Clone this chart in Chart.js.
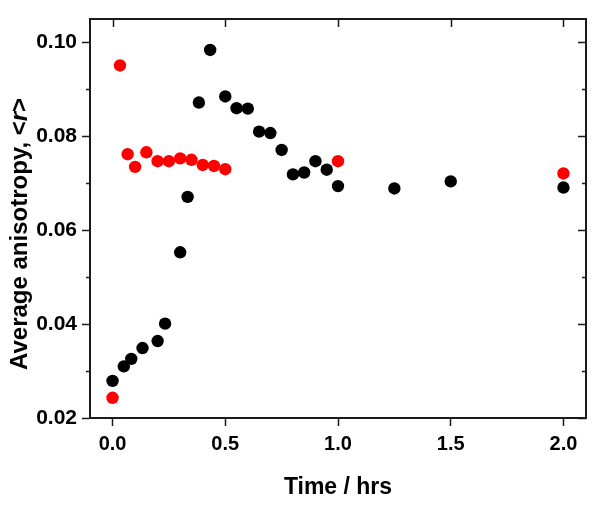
<!DOCTYPE html>
<html lang="en">
<head>
  <meta charset="UTF-8">
  <title>Average anisotropy vs time</title>
  <script src="https://cdn.jsdelivr.net/npm/chart.js@4.4.1/dist/chart.umd.min.js"></script>
  <style>
    body {
      margin: 0;
      background: #ffffff;
    }
    #wrap {
      width: 601px;
      height: 512px;
    }
  </style>
</head>
<body>
  <div id="wrap">
    <canvas id="anisoChart" width="601" height="512"></canvas>
  </div>

  <script>
    // Data
    const blackTime = [0, 0.05, 0.083, 0.133, 0.2, 0.233, 0.3, 0.333, 0.383, 0.433, 0.5, 0.55, 0.6, 0.65, 0.7, 0.75, 0.8, 0.85, 0.9, 0.95, 1.0, 1.25, 1.5, 2.0];
    const blackR = [0.0279, 0.0310, 0.0326, 0.0349, 0.0364, 0.0401, 0.0553, 0.0671, 0.0872, 0.0984, 0.0885, 0.0860, 0.0859, 0.0810, 0.0807, 0.0771, 0.0719, 0.0723, 0.0747, 0.0729, 0.0694, 0.0689, 0.0704, 0.0691];

    const redTime = [0, 0.033, 0.067, 0.1, 0.15, 0.2, 0.25, 0.3, 0.35, 0.4, 0.45, 0.5, 1.0, 2.0];
    const redR = [0.0243, 0.0951, 0.0762, 0.0735, 0.0766, 0.0747, 0.0747, 0.0753, 0.0750, 0.0739, 0.0737, 0.0730, 0.0747, 0.0721];

    const xTicks = [0, 0.5, 1.0, 1.5, 2.0];
    const yTicks = [0.02, 0.04, 0.06, 0.08, 0.10];
    const yMinorTicks = [0.03, 0.05, 0.07, 0.09];

    // y title pieces: "Average anisotropy, <r>" with the r in italics
    const yTitleParts = [
      { text: 'Average anisotropy, <', italic: false },
      { text: 'r', italic: true },
      { text: '>', italic: false }
    ];

    const axisColor = '#1a1a1a';
    const fontFamily = '"Liberation Sans", Arial, sans-serif';

    function toPoints(xs, ys) {
      return xs.map((x, i) => ({ x: x, y: ys[i] }));
    }

    // Frame on top/right, mirrored inward ticks on top/right, short minor ticks on the left
    const framePlugin = {
      id: 'frame',
      afterDraw(chart) {
        const ctx = chart.ctx;
        const area = chart.chartArea;
        const xs = chart.scales.x;
        const ys = chart.scales.y;
        ctx.save();
        ctx.strokeStyle = axisColor;
        ctx.lineWidth = 2;
        ctx.beginPath();
        ctx.moveTo(area.left, area.top);
        ctx.lineTo(area.right, area.top);
        ctx.lineTo(area.right, area.bottom);
        ctx.stroke();

        ctx.lineWidth = 1.5;
        ctx.beginPath();
        xTicks.forEach(v => {
          const px = Math.round(xs.getPixelForValue(v)) + 0.5;
          ctx.moveTo(px, area.top);
          ctx.lineTo(px, area.top + 8);
        });
        yTicks.forEach(v => {
          const py = Math.round(ys.getPixelForValue(v)) + 0.5;
          ctx.moveTo(area.right, py);
          ctx.lineTo(area.right - 8, py);
        });
        yMinorTicks.forEach(v => {
          const py = Math.round(ys.getPixelForValue(v)) + 0.5;
          ctx.moveTo(area.right, py);
          ctx.lineTo(area.right - 4, py);
          ctx.moveTo(area.left, py);
          ctx.lineTo(area.left - 4, py);
        });
        ctx.stroke();
        ctx.restore();
      }
    };

    // Rotated y-axis title with an italic r
    const yTitlePlugin = {
      id: 'yTitle',
      afterDraw(chart) {
        const ctx = chart.ctx;
        ctx.save();
        ctx.translate(27, 370);
        ctx.rotate(-Math.PI / 2);
        ctx.fillStyle = '#000000';
        ctx.textAlign = 'left';
        ctx.textBaseline = 'alphabetic';
        let x = 0;
        yTitleParts.forEach(part => {
          ctx.font = (part.italic ? 'italic ' : '') + 'bold 24px ' + fontFamily;
          ctx.fillText(part.text, x, 0);
          x += ctx.measureText(part.text).width;
        });
        ctx.restore();
      }
    };

    const ctx = document.getElementById('anisoChart').getContext('2d');
    new Chart(ctx, {
      type: 'scatter',
      data: {
        datasets: [
          {
            label: 'black',
            data: toPoints(blackTime, blackR),
            backgroundColor: '#000000',
            borderWidth: 0,
            pointRadius: 6.2,
            pointHoverRadius: 6.2
          },
          {
            label: 'red',
            data: toPoints(redTime, redR),
            backgroundColor: '#ff0000',
            borderWidth: 0,
            pointRadius: 6.2,
            pointHoverRadius: 6.2
          }
        ]
      },
      options: {
        responsive: false,
        animation: false,
        layout: {
          padding: { top: 19, right: 15, left: 0, bottom: 0 }
        },
        plugins: {
          legend: { display: false },
          tooltip: { enabled: false }
        },
        scales: {
          x: {
            type: 'linear',
            position: 'bottom',
            min: -0.1,
            max: 2.1,
            afterBuildTicks(scale) {
              scale.ticks = xTicks.map(v => ({ value: v }));
            },
            afterFit(scale) {
              scale.height = 94;
            },
            border: { display: true, color: axisColor, width: 2 },
            grid: {
              drawOnChartArea: false,
              drawTicks: true,
              tickLength: 8,
              tickColor: axisColor,
              tickWidth: 1.5
            },
            ticks: {
              color: '#000000',
              padding: 6,
              maxRotation: 0,
              font: { family: fontFamily, size: 20, weight: 'bold' },
              callback: v => Number(v).toFixed(1)
            },
            title: {
              display: true,
              text: 'Time / hrs',
              color: '#000000',
              padding: { top: 0, bottom: 11 },
              font: { family: fontFamily, size: 23, weight: 'bold' }
            }
          },
          y: {
            type: 'linear',
            position: 'left',
            min: 0.02,
            max: 0.105,
            afterBuildTicks(scale) {
              scale.ticks = yTicks.map(v => ({ value: v }));
            },
            afterFit(scale) {
              scale.width = 90;
            },
            border: { display: true, color: axisColor, width: 2 },
            grid: {
              drawOnChartArea: false,
              drawTicks: true,
              tickLength: 8,
              tickColor: axisColor,
              tickWidth: 1.5
            },
            ticks: {
              color: '#000000',
              padding: 5,
              font: { family: fontFamily, size: 21, weight: 'bold' },
              callback: v => Number(v).toFixed(2)
            },
            title: { display: false }
          }
        }
      },
      plugins: [framePlugin, yTitlePlugin]
    });
  </script>
</body>
</html>
